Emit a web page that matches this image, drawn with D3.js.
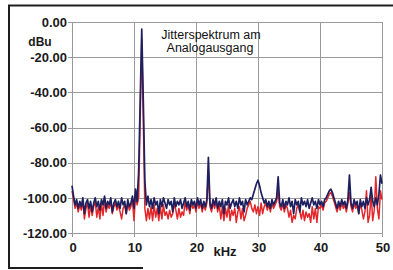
<!DOCTYPE html>
<html>
<head>
<meta charset="utf-8">
<script src="https://cdn.jsdelivr.net/npm/d3@7"></script>
<style>
  body { margin: 0; background: #fff; }
  svg { display: block; font-family: "Liberation Sans", Arial, sans-serif; }
</style>
</head>
<body>
<div id="chart"></div>
<script>
// Frequency axis: 0..50 kHz, one sample every 0.25 kHz
const freqStep = 0.25;

// Blue trace (dBu)
const blueValues = [
  -93, -99, -104, -101, -106, -102, -105, -100, -109, -103, -101, -106, -102, -108, -103, -100,
  -105, -102, -107, -101, -104, -99, -106, -102, -104, -100, -108, -103, -101, -105, -102, -106,
  -100, -104, -102, -109, -101, -105, -103, -99, -106, -95, -102, -85, -45, -4, -45, -90,
  -104, -99, -105, -101, -106, -100, -104, -102, -109, -101, -105, -100, -103, -106, -101, -104,
  -102, -108, -100, -105, -102, -104, -101, -106, -103, -100, -105, -102, -107, -101, -104, -102,
  -106, -100, -104, -101, -106, -102, -105, -101, -77, -103, -106, -101, -104, -100, -106, -102,
  -105, -101, -109, -102, -104, -100, -106, -103, -101, -105, -102, -106, -100, -104, -102, -108,
  -101, -104, -102, -100, -101, -98, -95, -92, -90, -93, -97, -100, -103, -101, -105, -102,
  -106, -101, -104, -102, -100, -88, -103, -105, -101, -106, -102, -104, -100, -105, -102, -109,
  -101, -104, -102, -108, -100, -104, -102, -105, -101, -106, -103, -100, -104, -102, -106, -101,
  -104, -102, -105, -101, -100, -98, -96, -95, -97, -100, -103, -106, -102, -105, -101, -104,
  -102, -106, -101, -87, -103, -106, -101, -104, -102, -109, -101, -105, -102, -106, -100, -104,
  -101, -94, -102, -105, -100, -104, -98, -87, -92
];

// Red trace (dBu)
const redValues = [
  -96, -101, -106, -103, -108, -104, -107, -102, -112, -106, -103, -111, -104, -110, -105, -102,
  -111, -105, -112, -103, -110, -101, -108, -104, -106, -102, -109, -105, -103, -107, -104, -108,
  -112, -106, -104, -109, -103, -107, -105, -101, -113, -98, -104, -100, -55, -10, -55, -106,
  -113, -106, -112, -105, -113, -104, -111, -106, -113, -105, -112, -104, -110, -108, -112, -107,
  -111, -109, -103, -107, -112, -106, -111, -108, -110, -102, -107, -104, -109, -103, -106, -104,
  -108, -102, -106, -103, -108, -104, -107, -103, -85, -105, -108, -103, -106, -102, -108, -104,
  -112, -105, -113, -106, -111, -104, -113, -107, -110, -106, -114, -108, -105, -112, -106, -113,
  -110, -106, -104, -102, -106, -108, -104, -109, -105, -110, -103, -109, -105, -103, -107, -104,
  -108, -103, -106, -104, -102, -96, -105, -107, -103, -108, -104, -106, -111, -107, -114, -110,
  -112, -106, -104, -108, -112, -107, -113, -108, -111, -109, -114, -105, -112, -106, -114, -105,
  -106, -104, -107, -103, -102, -100, -98, -97, -99, -102, -105, -108, -104, -107, -103, -106,
  -104, -108, -103, -97, -105, -108, -103, -106, -104, -109, -103, -107, -112, -108, -96, -114,
  -110, -98, -113, -107, -88, -106, -112, -96, -101
];

const xTicks = [0, 10, 20, 30, 40, 50];
const xTickLabels = ["0", "10", "20", "30", "40", "50"];
const yTicks = [0, -20, -40, -60, -80, -100, -120];
const yTickLabels = ["0.00", "-20.00", "-40.00", "-60.00", "-80.00", "-100.00", "-120.00"];

const width = 393;
const height = 270;
const margin = { top: 22, right: 11, bottom: 37, left: 72 };

const svg = d3
  .select("#chart")
  .append("svg")
  .attr("width", width)
  .attr("height", height);

svg.append("rect").attr("width", width).attr("height", height).attr("fill", "#fff");

// Scan frame (left, top, part of bottom)
svg.append("path")
  .attr("d", "M9,268 L9,5.5 L393,5.5")
  .attr("fill", "none")
  .attr("stroke", "#1e1e1e")
  .attr("stroke-width", 2);
svg.append("line")
  .attr("x1", 8).attr("x2", 143).attr("y1", 268).attr("y2", 268)
  .attr("stroke", "#1e1e1e")
  .attr("stroke-width", 2);

const x = d3.scaleLinear().domain([0, 50]).range([margin.left, width - margin.right]);
const y = d3.scaleLinear().domain([-120, 0]).range([height - margin.bottom, margin.top]);

// Grid
const grid = svg.append("g").attr("stroke", "#9b9b9b").attr("stroke-width", 1);
grid.selectAll(".vg")
  .data(xTicks)
  .join("line")
  .attr("x1", (d) => Math.round(x(d)) + 0.5)
  .attr("x2", (d) => Math.round(x(d)) + 0.5)
  .attr("y1", y(0))
  .attr("y2", y(-120) + 4);
grid.selectAll(".hg")
  .data(yTicks)
  .join("line")
  .attr("x1", x(0) - 4)
  .attr("x2", x(50))
  .attr("y1", (d) => Math.round(y(d)) + 0.5)
  .attr("y2", (d) => Math.round(y(d)) + 0.5);

// Traces
const series = [
  { values: redValues, color: "#e2262a", width: 1.5 },
  { values: blueValues, color: "#1d1f5e", width: 1.7 },
];

const line = d3
  .line()
  .x((d, i) => x(i * freqStep))
  .y((d) => y(d));

svg.selectAll(".trace")
  .data(series)
  .join("path")
  .attr("class", "trace")
  .attr("fill", "none")
  .attr("stroke", (d) => d.color)
  .attr("stroke-width", (d) => d.width)
  .attr("stroke-linejoin", "round")
  .attr("d", (d) => line(d.values));

// Y tick labels
svg.selectAll(".ylab")
  .data(yTicks)
  .join("text")
  .attr("x", x(0) - 5)
  .attr("y", (d) => y(d))
  .attr("dy", "0.36em")
  .attr("text-anchor", "end")
  .attr("font-size", 13)
  .attr("font-weight", "bold")
  .attr("fill", "#1a1a1a")
  .text((d, i) => yTickLabels[i]);

// X tick labels
svg.selectAll(".xlab")
  .data(xTicks)
  .join("text")
  .attr("x", (d) => x(d) + 1)
  .attr("y", 252)
  .attr("text-anchor", "middle")
  .attr("font-size", 13)
  .attr("font-weight", "bold")
  .attr("fill", "#1a1a1a")
  .text((d, i) => xTickLabels[i]);

// Units
svg.append("text")
  .attr("x", 40).attr("y", 46)
  .attr("text-anchor", "middle")
  .attr("font-size", 12)
  .attr("font-weight", "bold")
  .attr("fill", "#1a1a1a")
  .text("dBu");

svg.append("text")
  .attr("x", 225).attr("y", 256)
  .attr("text-anchor", "middle")
  .attr("font-size", 13)
  .attr("font-weight", "bold")
  .attr("fill", "#1a1a1a")
  .text("kHz");

// Title
svg.append("text")
  .attr("x", 211).attr("y", 39)
  .attr("text-anchor", "middle")
  .attr("font-size", 12.5)
  .attr("fill", "#111")
  .text("Jitterspektrum am");
svg.append("text")
  .attr("x", 210).attr("y", 52)
  .attr("text-anchor", "middle")
  .attr("font-size", 12.5)
  .attr("fill", "#111")
  .text("Analogausgang");
</script>
</body>
</html>
